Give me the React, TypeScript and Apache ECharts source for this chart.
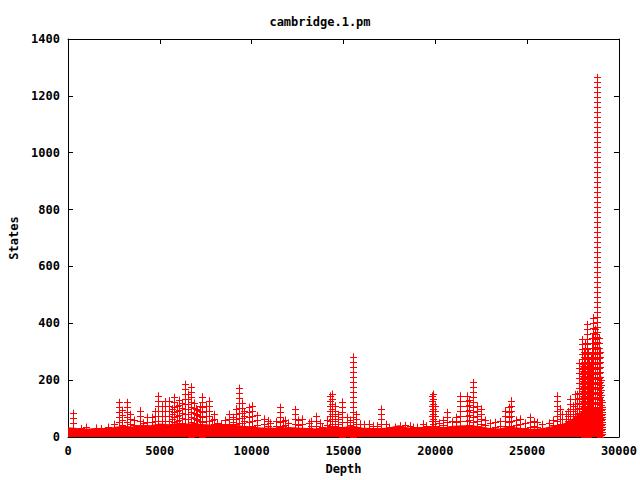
import React, { useEffect, useRef } from "react";
import * as echarts from "echarts";

const xTicks = [0, 5000, 10000, 15000, 20000, 25000, 30000];
const yTicks = [0, 200, 400, 600, 800, 1000, 1200, 1400];

// spike columns: depth and highest state count
const spikeDepth = [
  255, 700, 1000, 1500, 1800, 2200, 2500, 2790, 2950, 3190, 3400, 3600, 3910, 4100, 4300, 4600,
  4750, 4910, 5100, 5300, 5510, 5650, 5780, 5950, 6050, 6200, 6360, 6550, 6720, 6850, 6950, 7050,
  7200, 7320, 7500, 7680, 7850, 7950, 8100, 8320, 8550, 8770, 9000, 9150, 9310, 9450, 9600, 9850,
  10000, 10310, 10670, 10910, 11000, 11300, 11540, 11700, 11800, 12000, 12350, 12550, 12750, 13100,
  13250, 13480, 13700, 13840, 14100, 14260, 14350, 14550, 14700, 14930, 15200, 15350, 15530, 15700,
  15920, 16100, 16370, 16600, 16800, 17070, 17300, 17500, 17800, 18100, 18370, 18600, 18800, 19000,
  19310, 19500, 19820, 19870, 20000, 20210, 20400, 20630, 20900, 21150, 21360, 21720, 21850, 22050,
  22250, 22480, 22700, 23000, 23260, 23500, 23800, 24000, 24110, 24400, 24620, 24900, 25160, 25400,
  25530, 25800, 26200, 26400, 26610, 26800, 26900, 27100, 27200, 27340, 27500, 27600, 27700, 27800,
  27970, 28050, 28100, 28150, 28240, 28300, 28350, 28400, 28460, 28550, 28600, 28680,
  28790, 28900, 28950, 29000, 29060, 29100,
];
const spikePeak = [
  84, 30, 35, 32, 30, 35, 45, 122, 95, 122, 80, 60, 93, 50, 70, 70,
  90, 145, 110, 125, 128, 100, 140, 110, 130, 120, 186, 150, 177, 120, 100, 95,
  110, 142, 110, 128, 60, 80, 50, 47, 60, 81, 70, 100, 172, 120, 90, 105,
  110, 76, 64, 58, 50, 55, 105, 55, 60, 50, 97, 60, 64, 50,
  55, 73, 50, 35, 60, 145, 151, 110, 80, 124, 70, 60, 282, 80,
  47, 45, 47, 40, 40, 99, 45, 35, 35, 40, 41, 40, 35, 35,
  47, 40, 145, 151, 110, 50, 60, 87, 55, 70, 145, 145, 130, 192,
  110, 99, 60, 50, 52, 55, 93, 105, 128, 60, 64, 50, 70, 55,
  52, 45, 50, 60, 145, 100, 80, 80, 90, 134, 110, 150, 150, 260,
  343, 250, 300, 330, 396, 300, 260, 250, 279, 350, 420, 380,
  1265, 350, 300, 200, 122, 100,
];

// dense band of low state counts along the bottom
const bandDepth = [
  0, 500, 1000, 1500, 2000, 2500, 3000, 3500, 4000, 4500, 5000, 5500, 6000, 6500, 7000, 7500,
  8000, 8500, 9000, 9500, 10000, 10500, 11000, 11500, 12000, 12500, 13000, 13500, 14000, 14500,
  15000, 15500, 16000, 16500, 17000, 17500, 18000, 18500, 19000, 19500, 20000, 20500, 21000, 21500,
  22000, 22500, 23000, 23500, 24000, 24500, 25000, 25500, 26000, 26500, 27000, 27500, 28000, 28500,
  28900, 29150,
];
const bandStates = [
  29, 26, 24, 26, 27, 30, 34, 32, 38, 36, 42, 40, 44, 42, 42, 40,
  38, 36, 38, 34, 32, 28, 28, 26, 30, 28, 26, 25, 28, 32,
  30, 34, 28, 26, 26, 28, 36, 28, 28, 32, 32, 30, 34, 36,
  36, 32, 26, 25, 32, 28, 24, 24, 28, 34, 42, 60, 85, 100,
  85, 60,
];

export default function App() {
  const ref = useRef<HTMLDivElement>(null);
  useEffect(() => {
    if (!ref.current) return;
    const chart = echarts.init(ref.current, null, { renderer: "svg" });
    const font = "DejaVu Sans Mono";
    const red = "#ff0000";
    const spikes = spikeDepth.map((d, i) => [d, spikePeak[i]]);
    const band = bandDepth.map((d, i) => [d, bandStates[i]]);
    const labelStyle = { fontFamily: font, fontWeight: "bold" as const, fontSize: 12, color: "#000" };
    const axisCommon = {
      axisLine: { show: true, onZero: false, lineStyle: { color: "#000", width: 1 } },
      axisTick: { show: true, inside: true, length: 5, lineStyle: { color: "#000" } },
      splitLine: { show: false },
    };
    chart.setOption({
      animation: false,
      backgroundColor: "#fff",
      title: {
        text: "cambridge.1.pm",
        left: "center",
        top: 11,
        textStyle: { ...labelStyle, fontSize: 12 },
      },
      grid: { left: 68, top: 39, width: 551, height: 401 },
      xAxis: [
        {
          type: "value",
          min: 0,
          max: 30000,
          interval: 5000,
          position: "bottom",
          name: "Depth",
          nameLocation: "middle",
          nameGap: 26,
          nameTextStyle: labelStyle,
          axisLabel: { ...labelStyle, margin: 8, formatter: (v: number) => (xTicks.includes(v) ? String(v) : "") },
          ...axisCommon,
        },
        {
          type: "value",
          min: 0,
          max: 30000,
          interval: 5000,
          position: "top",
          axisLabel: { show: false },
          ...axisCommon,
        },
      ],
      yAxis: [
        {
          type: "value",
          min: 0,
          max: 1400,
          interval: 200,
          position: "left",
          name: "States",
          nameLocation: "middle",
          nameRotate: 90,
          nameGap: 47,
          nameTextStyle: labelStyle,
          axisLabel: { ...labelStyle, margin: 8, formatter: (v: number) => (yTicks.includes(v) ? String(v) : "") },
          ...axisCommon,
        },
        {
          type: "value",
          min: 0,
          max: 1400,
          interval: 200,
          position: "right",
          axisLabel: { show: false },
          ...axisCommon,
        },
      ],
      series: [
        {
          type: "line",
          data: band,
          xAxisIndex: 0,
          yAxisIndex: 0,
          symbol: "none",
          lineStyle: { color: red, width: 3 },
          areaStyle: { color: red, opacity: 1 },
          silent: true,
        },
        {
          type: "custom",
          data: spikes,
          xAxisIndex: 0,
          yAxisIndex: 0,
          encode: { x: 0, y: 1 },
          silent: true,
          renderItem: (params: any, api: any) => {
            const base = api.coord([api.value(0), 0]);
            const top = api.coord([api.value(0), api.value(1)]);
            const x = Math.round(base[0]) + 0.5;
            const y0 = base[1];
            const yp = top[1];
            const children: any[] = [
              {
                type: "line",
                shape: { x1: x, y1: y0, x2: x, y2: yp - 3.5 },
                style: { stroke: red, lineWidth: 1 },
              },
            ];
            for (let y = yp; y < y0; y += 5) {
              const yy = Math.round(y) + 0.5;
              children.push({
                type: "line",
                shape: { x1: x - 3.5, y1: yy, x2: x + 3.5, y2: yy },
                style: { stroke: red, lineWidth: 1 },
              });
            }
            return { type: "group", children };
          },
        },
      ],
    });
    return () => chart.dispose();
  }, []);
  return (
    <div
      ref={ref}
      style={{ position: "fixed", left: 0, top: 0, width: 640, height: 480, background: "#fff" }}
    />
  );
}
